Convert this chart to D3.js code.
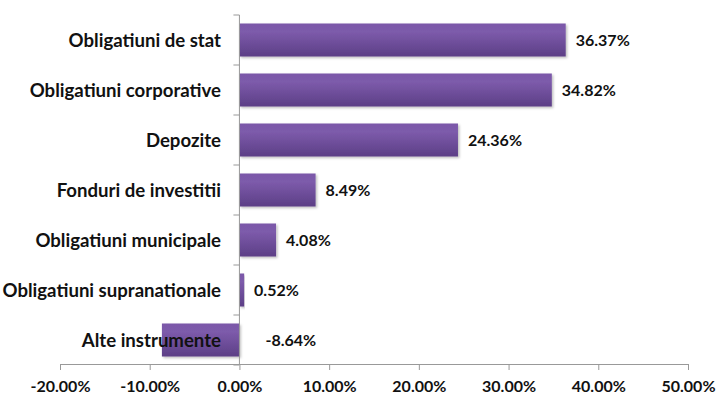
<!DOCTYPE html>
<html>
<head>
<meta charset="utf-8">
<script src="https://cdnjs.cloudflare.com/ajax/libs/d3/7.8.5/d3.min.js"></script>
<style>
  body { margin: 0; background: #fff; }
  text { font-family: Lato, "Open Sans", sans-serif; font-weight: bold; fill: #111; }
</style>
</head>
<body>
<svg id="chart" width="718" height="394"></svg>
<script>
// values
var categories = ["Obligatiuni de stat", "Obligatiuni corporative", "Depozite",
  "Fonduri de investitii", "Obligatiuni municipale", "Obligatiuni supranationale", "Alte instrumente"];
var shares = [36.37, 34.82, 24.36, 8.49, 4.08, 0.52, -8.64];
var xTicks = [-20, -10, 0, 10, 20, 30, 40, 50];

var pct = function(v) { return v.toFixed(2) + "%"; };

var svg = d3.select("#chart");

var x = d3.scaleLinear().domain([-20, 50]).range([60, 688]);
var y = d3.scaleBand().domain(categories).range([15, 365]).paddingInner(0.34).paddingOuter(0.17);

var defs = svg.append("defs");
var grad = defs.append("linearGradient").attr("id", "barGrad")
  .attr("x1", 0).attr("y1", 0).attr("x2", 0).attr("y2", 1);
grad.append("stop").attr("offset", "0%").attr("stop-color", "#7a58a8");
grad.append("stop").attr("offset", "25%").attr("stop-color", "#7d5bab");
grad.append("stop").attr("offset", "100%").attr("stop-color", "#5c3e86");

var shadow = defs.append("filter").attr("id", "shadow")
  .attr("x", "-5%").attr("y", "-20%").attr("width", "115%").attr("height", "160%");
shadow.append("feDropShadow").attr("dx", 1.5).attr("dy", 1.5).attr("stdDeviation", 1)
  .attr("flood-color", "#000").attr("flood-opacity", 0.25);

var data = categories.map(function(c, i) { return { name: c, value: shares[i] }; });

// bars
svg.append("g").selectAll("rect")
  .data(data).enter()
  .append("rect")
  .attr("x", function(d) { return x(Math.min(0, d.value)); })
  .attr("y", function(d) { return y(d.name); })
  .attr("width", function(d) { return Math.abs(x(d.value) - x(0)); })
  .attr("height", y.bandwidth())
  .attr("fill", "url(#barGrad)")
  .attr("filter", "url(#shadow)");

// bottom axis
var xAxis = d3.axisBottom(x).tickValues(xTicks).tickSize(6).tickSizeOuter(0).tickFormat(pct);
var gx = svg.append("g").attr("transform", "translate(0,364)").call(xAxis);
gx.select(".domain").attr("stroke", "#999");
gx.selectAll(".tick line").attr("stroke", "#999");
gx.selectAll(".tick text").attr("font-size", 16).attr("dy", "1.2em")
  .style("font-family", "Lato, 'Open Sans', sans-serif").attr("fill", "#111");

// vertical axis at zero
var step = y.step();
var catTicks = d3.range(categories.length + 1).map(function(i) { return 15 + i * step; });
svg.append("line").attr("x1", x(0)).attr("x2", x(0)).attr("y1", 15).attr("y2", 364)
  .attr("stroke", "#999");
svg.append("g").selectAll("line").data(catTicks).enter().append("line")
  .attr("x1", x(0) - 6).attr("x2", x(0)).attr("y1", function(d) { return d; }).attr("y2", function(d) { return d; })
  .attr("stroke", "#999");

// category labels (drawn over bars)
svg.append("g").selectAll("text")
  .data(data).enter()
  .append("text")
  .attr("x", 221)
  .attr("y", function(d) { return y(d.name) + y.bandwidth() / 2; })
  .attr("dy", "0.35em")
  .attr("text-anchor", "end")
  .attr("font-size", 18.6)
  .text(function(d) { return d.name; });

// value labels
svg.append("g").selectAll("text")
  .data(data).enter()
  .append("text")
  .attr("x", function(d) { return x(Math.max(0, d.value)) + (d.value < 0 ? 26 : 10); })
  .attr("y", function(d) { return y(d.name) + y.bandwidth() / 2; })
  .attr("dy", "0.35em")
  .attr("font-size", 16)
  .text(function(d) { return pct(d.value); });
</script>
</body>
</html>
